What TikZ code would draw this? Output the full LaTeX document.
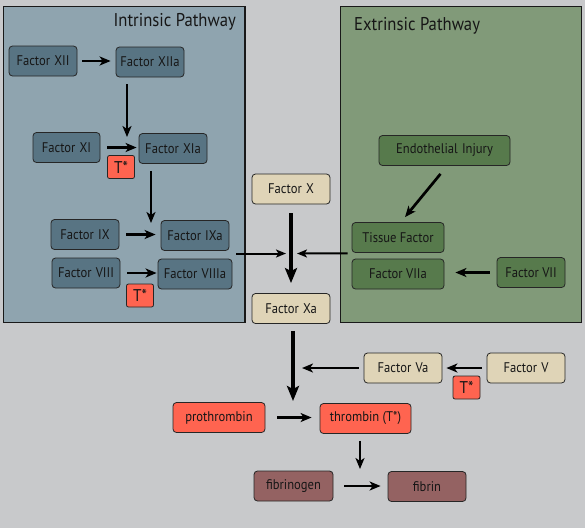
\documentclass[tikz,border=0pt]{standalone}
\usepackage{fontspec}
\setmainfont{PT Sans}[FakeStretch=0.9]
\usetikzlibrary{arrows.meta,calc}
\definecolor{bg}{HTML}{C8C9CB}
\definecolor{intbg}{HTML}{8FA4AF}
\definecolor{extbg}{HTML}{819A79}
\definecolor{intnode}{HTML}{587483}
\definecolor{extnode}{HTML}{577A4C}
\definecolor{tan}{HTML}{DFD4B7}
\definecolor{redn}{HTML}{FF6450}
\definecolor{brown}{HTML}{946262}
\definecolor{txt}{HTML}{161616}
\newcommand{\wsp}{\hspace{0.3em}}
\tikzset{
  box/.style={draw=black!85, line width=0.8pt, rounded corners=3.5pt, inner sep=0pt,
    font=\fontsize{14}{16}\selectfont, text=txt, minimum height=30pt},
  ibox/.style={box, fill=intnode, minimum width=68pt},
  ebox/.style={box, fill=extnode, minimum width=92pt},
  tbox/.style={box, fill=tan, minimum width=78pt},
  rbox/.style={box, fill=redn, minimum width=92pt},
  bbox/.style={box, fill=brown, minimum width=79pt},
  tstar/.style={draw=black!85, line width=0.8pt, rounded corners=2pt, fill=redn, inner sep=0pt,
    minimum width=27pt, minimum height=23pt, font=\fontsize{17}{19}\selectfont, text=txt},
  panel/.style={draw=black!90, line width=1.8pt},
  ptitle/.style={font=\fontsize{18.5}{21}\selectfont, text=txt, inner sep=0pt},
  arr/.style={line width=2.7pt, -{Stealth[length=11pt,width=9pt,inset=3pt]}},
  bigarr/.style={line width=3.4pt, -{Stealth[length=15pt,width=12pt,inset=3pt]}},
  thinarr/.style={line width=2pt, -{Stealth[length=10pt,width=8pt,inset=2.5pt]}}
}
\begin{document}
\begin{tikzpicture}[x=1pt,y=-1pt]
\useasboundingbox (0,0) rectangle (585,528);
\fill[bg] (0,0) rectangle (585,528);
% panels
\draw[panel, fill=intbg] (3.5,6.5) rectangle (245,322.5);
\draw[panel, fill=extbg] (340.5,6.5) rectangle (581.5,322.5);
\node[ptitle, anchor=east] (ititle) at (236,22) {Intrinsic Pathway};
\node[ptitle, anchor=west] (etitle) at (354,26) {Extrinsic Pathway};
% intrinsic nodes
\node[ibox] (xii) at (43,61) {Factor\wsp XII};
\node[ibox] (xiia) at (150,62) {Factor\wsp XIIa};
\node[ibox, minimum width=67pt] (xi) at (66.5,147.5) {Factor\wsp XI};
\node[ibox] (xia) at (173,148.5) {Factor\wsp XIa};
\node[tstar] (t1) at (121,167) {T*};
\node[ibox] (ix) at (85,234.5) {Factor\wsp IX};
\node[ibox] (ixa) at (195,235.5) {Factor\wsp IXa};
\node[ibox] (viii) at (86,273) {Factor\wsp VIII};
\node[ibox, minimum width=74pt] (viiia) at (195,274) {Factor\wsp VIIIa};
\node[tstar] (t2) at (140,295.5) {T*};
% extrinsic nodes
\node[ebox, minimum width=131pt] (ei) at (444.5,150.5) {Endothelial\wsp Injury};
\node[ebox] (tf) at (398,237.5) {Tissue Factor};
\node[ebox] (viia) at (398,274) {Factor VIIa};
\node[ebox, minimum width=68pt] (vii) at (531,272.5) {Factor VII};
% common
\node[tbox] (fx) at (291,189) {Factor\wsp X};
\node[tbox] (fxa) at (291,308.5) {Factor\wsp Xa};
\node[tbox] (fva) at (403,368) {Factor\wsp Va};
\node[tbox] (fv) at (526,368) {Factor\wsp V};
\node[tstar] (t3) at (466.5,387.5) {T*};
\node[rbox] (pro) at (219,417.5) {prothrombin};
\node[rbox, minimum width=91pt] (thr) at (365.5,418.5) {thrombin (T*)};
\node[bbox] (fgn) at (293.5,486) {fibrinogen};
\node[bbox, minimum width=78pt] (fib) at (427,486.5) {fibrin};
% junction coordinates
\coordinate (c1) at (127,137);
\coordinate (c2) at (151,223);
\coordinate (c3) at (286,253.5);
\coordinate (c4) at (236,253.5);
\coordinate (c5) at (297,253.5);
\coordinate (c6) at (293,401);
\coordinate (c7) at (302,368);
\coordinate (c8) at (360,469);
% intrinsic arrows
\draw[arr, shorten <=5pt, shorten >=5pt] (xii.east) -- (xii.east -| xiia.west);
\draw[arr] ([yshift=-7pt]xiia.south -| c1) -- (c1);
\draw[arr, shorten <=7pt, shorten >=2pt] (xi.east) -- (xi.east -| xia.west);
\draw[arr] ([yshift=-7pt]xia.south -| c2) -- (c2);
\draw[arr, shorten <=7pt, shorten >=5pt] (ix.east) -- (ix.east -| ixa.west);
\draw[arr, shorten <=7pt, shorten >=1pt] (viii.east) -- (viii.east -| viiia.west);
% junction
\draw[thinarr] (c4) -- (c3);
\draw[thinarr] ([xshift=-4pt,yshift=-0.5pt]tf.south west) -- (c5);
\draw[bigarr, shorten <=9pt, shorten >=10pt] (fx.south) -- (fxa.north);
% extrinsic arrows
\draw[arr] ([xshift=-4pt,yshift=-8pt]ei.south) -- ([xshift=7pt,yshift=5pt]tf.north);
\draw[arr, shorten <=7pt, shorten >=11pt] (vii.west) -- (vii.west -| viia.east);
% lower
\draw[bigarr] ([yshift=-7pt]fxa.south -| c6) -- (c6);
\draw[arr, shorten <=5pt] (fva.west) -- (c7);
\draw[arr, shorten <=5pt, shorten >=4pt] (fv.west) -- (fv.west -| fva.east);
\draw[arr, shorten <=12pt, shorten >=8pt] (pro.east) -- (pro.east -| thr.west);
\draw[arr] ([yshift=-7pt]thr.south -| c8) -- (c8);
\draw[arr, shorten <=11pt, shorten >=7pt] (fgn.east) -- (fgn.east -| fib.west);
\end{tikzpicture}
\end{document}
